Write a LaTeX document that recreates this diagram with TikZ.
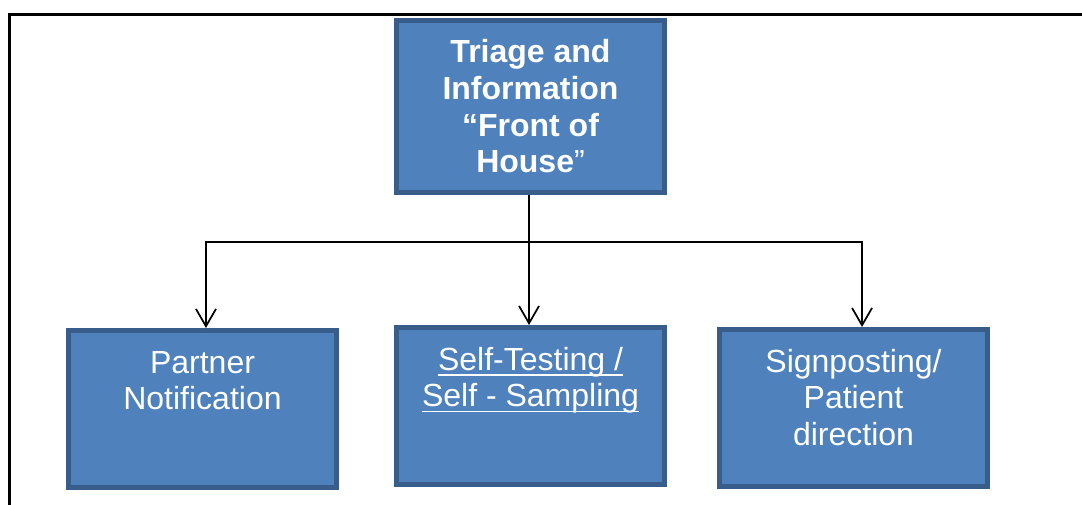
\documentclass[tikz,border=0pt]{standalone}
\usepackage{fontspec}
\setmainfont{Liberation Sans}
\usetikzlibrary{arrows.meta}
\definecolor{boxfill}{HTML}{4F81BD}
\definecolor{boxline}{HTML}{385D8A}
\newcommand\firststrut{\rule{0pt}{31.9pt}}
\newcommand\myul[1]{\leavevmode\setbox0\hbox{#1}\rlap{\rule[-4.4pt]{\wd0}{1.4pt}}\box0}
\tikzset{
  box/.style={draw=boxline, fill=boxfill, line width=3.75pt, inner sep=0pt,
    minimum width=201pt, text=white},
  lowbox/.style={box, minimum height=117.75pt},
  conn/.style={draw=black, line width=1.3pt},
  arr/.style={conn, -{Straight Barb[length=13pt,width=15pt,line width=1.3pt]}},
  frame/.style={draw=black, line width=2.25pt}
}
\newcommand\boxtext[1]{\parbox[c][117.75pt][t]{200pt}{\centering\fontsize{24pt}{27.4pt}\selectfont\firststrut #1}}
\begin{document}
\begin{tikzpicture}[x=0.75pt,y=-0.75pt]
\useasboundingbox (0,0) rectangle (1082,504);
\draw[frame] (9.5,14) rectangle (1100,530);
\node[box, minimum height=129pt, align=center,
  font=\bfseries\fontsize{24pt}{27.5pt}\selectfont] (top) at (530.5,106.5)
  {Triage and\\Information\\“Front of\\House{\mdseries ”}};
\node[lowbox] (left) at (202.5,409) {\boxtext{Partner\\Notification}};
\node[lowbox] (mid) at (530.5,406) {\boxtext{\myul{Self-Testing /}\\\myul{Self - Sampling}}};
\node[lowbox] (right) at (853.5,408) {\boxtext{Signposting/\\Patient\\direction}};
\coordinate (j) at (529,242);
\draw[arr] ([xshift=-1.1pt]top.south) -- ([xshift=-1.1pt]mid.north);
\draw[arr] (j) -| ([xshift=2.6pt]left.north);
\draw[arr] (j) -| ([xshift=6.4pt]right.north);
\end{tikzpicture}
\end{document}
